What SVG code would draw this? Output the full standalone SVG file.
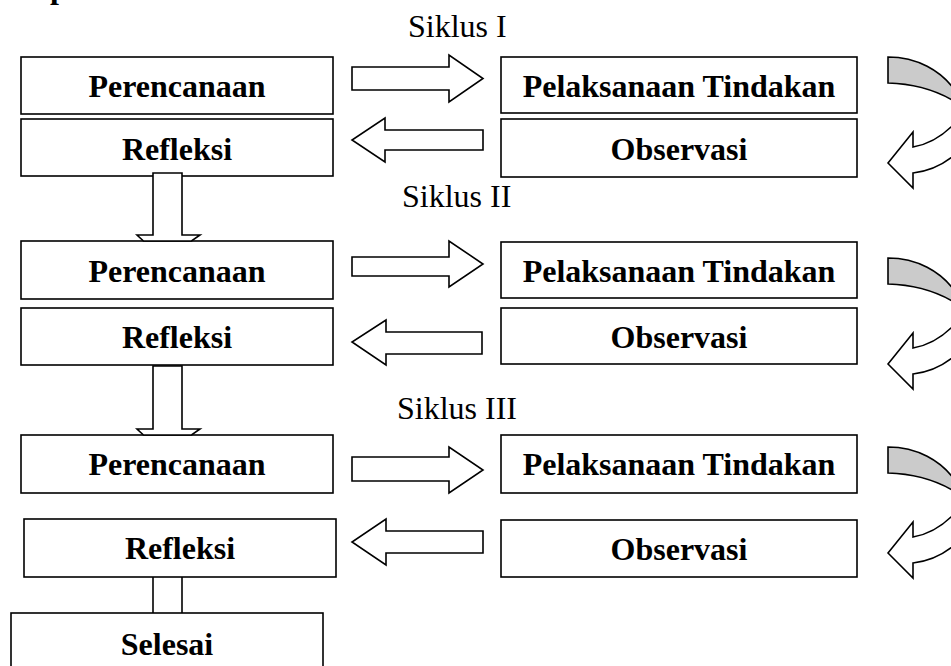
<svg xmlns="http://www.w3.org/2000/svg" width="951" height="666" viewBox="0 0 951 666">
<defs>
<style>
.box{fill:#fff;stroke:#000;stroke-width:1.6}
.lbl{font-family:"Liberation Serif","Times New Roman",serif;font-size:32px;font-weight:bold;text-anchor:middle;fill:#000}
.cyc{font-family:"Liberation Serif","Times New Roman",serif;font-size:32px;fill:#000}
.arr{fill:#fff;stroke:#000;stroke-width:1.6;stroke-linejoin:miter}
.back{fill:#cbcbcb;stroke:#000;stroke-width:1.6}
.ln{stroke:#000;stroke-width:1.6;fill:none}
</style>
<g id="curved">
<path class="back" d="M888,0 C915,0 942,12 958,38 L966,52 C950,40 925,27 888,26 Z"/>
<path class="arr" d="M888,106 L913,75 L913,90 C930,87 945,79 960,60 L968,84 C952,104 932,114 913,116 L913,131 Z"/>
</g>
</defs>
<text class="cyc" x="50" y="-2" style="font-weight:bold">p</text>
<text class="cyc" x="408" y="37">Siklus I</text>
<text class="cyc" x="402" y="207">Siklus II</text>
<text class="cyc" x="397" y="419">Siklus III</text>
<g id="nodes">
<g id="perencanaan1"><rect class="box" x="21" y="57" width="312" height="57"/><text class="lbl" x="177" y="97">Perencanaan</text></g>
<g id="refleksi1"><rect class="box" x="21" y="119" width="312" height="57"/><text class="lbl" x="177" y="160">Refleksi</text></g>
<g id="pelaksanaan1"><rect class="box" x="501" y="57" width="356" height="56"/><text class="lbl" x="679" y="97">Pelaksanaan Tindakan</text></g>
<g id="observasi1"><rect class="box" x="501" y="119" width="356" height="58"/><text class="lbl" x="679" y="160">Observasi</text></g>
<g id="perencanaan2"><rect class="box" x="21" y="241" width="312" height="58"/><text class="lbl" x="177" y="282">Perencanaan</text></g>
<g id="refleksi2"><rect class="box" x="21" y="308" width="312" height="57"/><text class="lbl" x="177" y="348">Refleksi</text></g>
<g id="pelaksanaan2"><rect class="box" x="501" y="242" width="356" height="56"/><text class="lbl" x="679" y="282">Pelaksanaan Tindakan</text></g>
<g id="observasi2"><rect class="box" x="501" y="308" width="356" height="56"/><text class="lbl" x="679" y="348">Observasi</text></g>
<g id="perencanaan3"><rect class="box" x="21" y="435" width="312" height="58"/><text class="lbl" x="177" y="475">Perencanaan</text></g>
<g id="refleksi3"><rect class="box" x="24" y="519" width="312" height="58"/><text class="lbl" x="180" y="559">Refleksi</text></g>
<g id="pelaksanaan3"><rect class="box" x="501" y="435" width="356" height="58"/><text class="lbl" x="679" y="475">Pelaksanaan Tindakan</text></g>
<g id="observasi3"><rect class="box" x="501" y="520" width="356" height="57"/><text class="lbl" x="679" y="560">Observasi</text></g>
<g id="selesai"><rect class="box" x="11" y="613" width="312" height="70"/><text class="lbl" x="167" y="655">Selesai</text></g>
</g>
<g id="connectors">
<polygon class="arr" points="352,67 449,67 449,55 483,78.5 449,102 449,90 352,90"/>
<polygon class="arr" points="483,130 385,130 385,118 352,140 385,162 385,150 483,150"/>
<polygon class="arr" points="352,257 449,257 449,241 483,264 449,287 449,276 352,276"/>
<polygon class="arr" points="482,332 386,332 386,320 352,342 386,365 386,354 482,354"/>
<polygon class="arr" points="352,457 449,457 449,447 483,470 449,493 449,481 352,481"/>
<polygon class="arr" points="483,531 386,531 386,519 352,542 386,565 386,553 483,553"/>
<polygon class="arr" points="153,173 182,173 182,235 200,235 191.5,241 143.5,241 137,235 153,235"/>
<polygon class="arr" points="153,366 182,366 182,429 200,429 191.5,435 143.5,435 137,429 153,429"/>
<line class="ln" x1="153" y1="577" x2="153" y2="613"/>
<line class="ln" x1="182" y1="577" x2="182" y2="613"/>
<use href="#curved" transform="translate(0,57)"/>
<use href="#curved" transform="translate(0,258)"/>
<use href="#curved" transform="translate(0,447)"/>
</g>
</svg>
